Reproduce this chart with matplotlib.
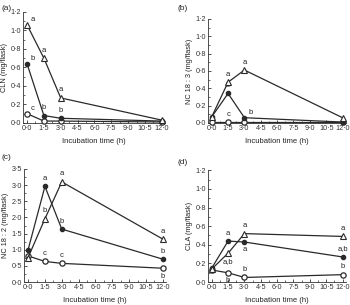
import matplotlib
matplotlib.use("Agg")
import matplotlib.pyplot as plt
from matplotlib.ticker import MultipleLocator, FuncFormatter

plt.rcParams['font.family'] = ['Liberation Sans', 'DejaVu Sans']

times = [0.0, 1.5, 3.0, 12.0]
x_ticks = [0, 1.5, 3, 4.5, 6, 7.5, 9, 10.5, 12]

# (a) CLN
cln_tri = [1.06, 0.70, 0.27, 0.03]
cln_fill = [0.64, 0.08, 0.05, 0.02]
cln_open = [0.10, 0.02, 0.02, 0.01]
# (b) NC 18:3
nc183_tri = [0.07, 0.47, 0.61, 0.06]
nc183_fill = [0.07, 0.34, 0.06, 0.01]
nc183_open = [0.01, 0.01, 0.01, 0.01]
# (c) NC 18:2
nc182_tri = [0.76, 1.96, 3.10, 1.33]
nc182_fill = [1.00, 2.96, 1.64, 0.71]
nc182_open = [0.81, 0.64, 0.58, 0.43]
# (d) CLA
cla_tri = [0.14, 0.31, 0.52, 0.49]
cla_fill = [0.15, 0.44, 0.43, 0.27]
cla_open = [0.13, 0.10, 0.05, 0.08]

# significance letters: (series, time index, letter, position)
letters_a = [(cln_tri, 0, 'a', 'ur'), (cln_tri, 1, 'a', 'u'), (cln_tri, 2, 'a', 'u'),
             (cln_fill, 0, 'b', 'ur'), (cln_fill, 1, 'b', 'u'), (cln_fill, 2, 'b', 'u'),
             (cln_open, 0, 'c', 'ur')]
letters_b = [(nc183_tri, 1, 'a', 'u'), (nc183_tri, 2, 'a', 'u'),
             (nc183_fill, 1, 'b', 'u'), (nc183_fill, 2, 'b', 'ur'),
             (nc183_open, 1, 'c', 'u')]
letters_c = [(nc182_fill, 1, 'a', 'u'), (nc182_fill, 2, 'b', 'u'), (nc182_fill, 3, 'b', 'u'),
             (nc182_tri, 1, 'b', 'u'), (nc182_tri, 2, 'a', 'u'), (nc182_tri, 3, 'a', 'u'),
             (nc182_open, 1, 'c', 'u'), (nc182_open, 2, 'c', 'u'), (nc182_open, 3, 'b', 'd')]
letters_d = [(cla_tri, 1, 'a,b', 'd'), (cla_tri, 2, 'a', 'u'), (cla_tri, 3, 'a', 'u'),
             (cla_fill, 1, 'a', 'u'), (cla_fill, 2, 'a', 'd'), (cla_fill, 3, 'a,b', 'u'),
             (cla_open, 1, 'b', 'd'), (cla_open, 2, 'b', 'u'), (cla_open, 3, 'b', 'u')]

fig = plt.figure(figsize=(3.5, 3.05), dpi=100)

panels = [
    ('(a)', [0.066, 0.597, 0.406, 0.364], 'CLN (mg/flask)', 1.2, 0.2, cln_tri, cln_fill, cln_open, letters_a, (0.005, 0.985)),
    ('(b)', [0.594, 0.597, 0.394, 0.341], 'NC 18 : 3 (mg/flask)', 1.2, 0.2, nc183_tri, nc183_fill, nc183_open, letters_b, (0.508, 0.985)),
    ('(c)', [0.069, 0.075, 0.406, 0.371], 'NC 18 : 2 (mg/flask)', 3.5, 0.5, nc182_tri, nc182_fill, nc182_open, letters_c, (0.005, 0.495)),
    ('(d)', [0.594, 0.075, 0.394, 0.367], 'CLA (mg/flask)', 1.2, 0.2, cla_tri, cla_fill, cla_open, letters_d, (0.508, 0.48)),
]

lc = '#2a2a2a'
fmt = FuncFormatter(lambda v, p: ('%.1f' % v).replace('.', '\u00b7'))

for tag, rect, ylabel, ymax, ystep, tri, fill, opn, letters, tagpos in panels:
    ax = fig.add_axes(rect)
    ax.plot(times, opn, '-o', color=lc, lw=0.9, ms=3.8, mfc='white', mec=lc, mew=0.9, clip_on=False, zorder=3)
    ax.plot(times, fill, '-o', color=lc, lw=0.9, ms=3.0, mfc=lc, mec=lc, clip_on=False, zorder=4)
    ax.plot(times, tri, '-^', color=lc, lw=0.9, ms=4.2, mfc='white', mec=lc, mew=0.8, clip_on=False, zorder=5)
    ax.set_xlim(-0.35, 12.3)
    ax.set_ylim(0, ymax)
    ax.set_xticks(x_ticks)
    ax.xaxis.set_minor_locator(MultipleLocator(0.75))
    ax.yaxis.set_major_locator(MultipleLocator(ystep))
    ax.yaxis.set_minor_locator(MultipleLocator(ystep / 2))
    ax.xaxis.set_major_formatter(fmt)
    ax.yaxis.set_major_formatter(fmt)
    for s in ['top', 'right']:
        ax.spines[s].set_visible(False)
    for s in ['left', 'bottom']:
        ax.spines[s].set_linewidth(0.6)
        ax.spines[s].set_color('#333333')
    ax.tick_params(which='major', direction='in', length=2.5, width=0.6, labelsize=5.2, pad=1.5, colors='#333333')
    ax.tick_params(which='minor', direction='in', length=1.3, width=0.5, colors='#333333')
    ax.set_xlabel('Incubation time (h)', fontsize=5.5, labelpad=4, color='#222222')
    ax.set_ylabel(ylabel, fontsize=5.3, labelpad=1.5, color='#222222')
    for series, i, txt, pos in letters:
        x = times[i]
        y = series[i]
        if pos == 'u':
            ax.annotate(txt, (x, y), xytext=(0, 3.2), textcoords='offset points', ha='center', va='bottom', fontsize=5.5, color='#222222')
        elif pos == 'ur':
            ax.annotate(txt, (x, y), xytext=(2.8, 1.2), textcoords='offset points', ha='left', va='bottom', fontsize=5.5, color='#222222')
        else:
            ax.annotate(txt, (x, y), xytext=(0, -3.2), textcoords='offset points', ha='center', va='top', fontsize=5.5, color='#222222')
    fig.text(tagpos[0], tagpos[1], tag, fontsize=6, ha='left', va='top', color='#222222')

fig.savefig('out.png', dpi=100)
